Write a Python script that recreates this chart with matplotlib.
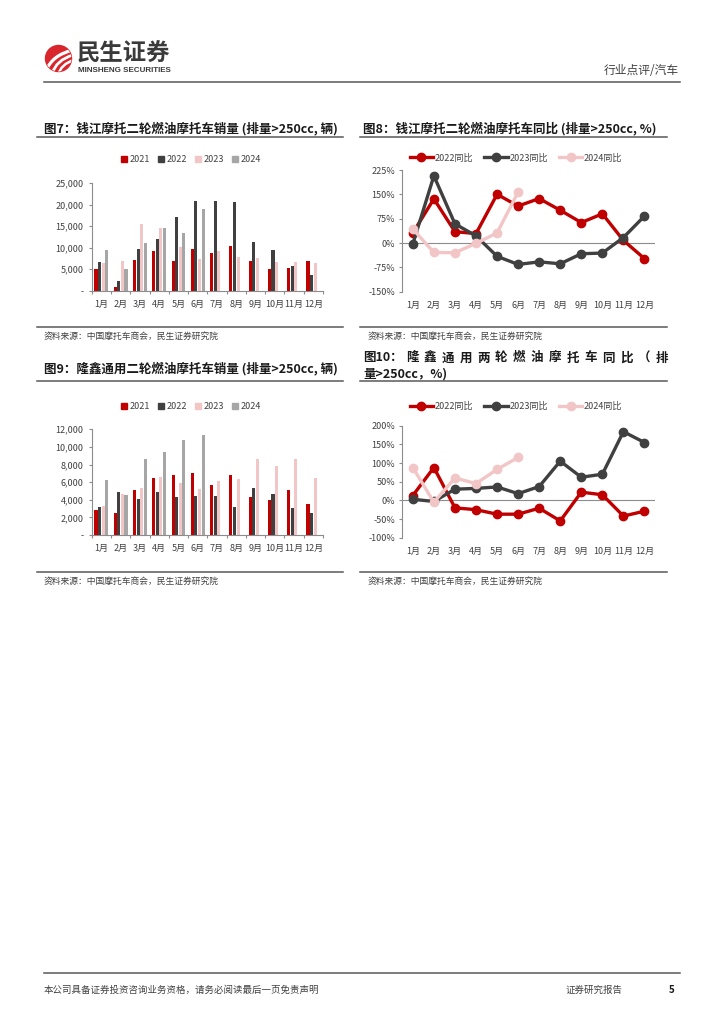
import matplotlib
matplotlib.use('Agg')
import matplotlib.pyplot as plt
import numpy as np
from matplotlib.patches import Circle, PathPatch, Patch
from matplotlib.path import Path
from matplotlib.lines import Line2D

plt.rcParams['font.family'] = ['Noto Sans CJK SC', 'DejaVu Sans']

# ---------------- data ----------------
months = ['1月', '2月', '3月', '4月', '5月', '6月', '7月', '8月', '9月', '10月', '11月', '12月']
bar_labels = ['2021', '2022', '2023', '2024']
line_labels = ['2022同比', '2023同比', '2024同比']

# 钱江摩托 销量 (辆)
qj_2021 = [5000, 900, 7200, 9300, 6800, 9700, 8800, 10300, 6900, 5000, 5300, 6800]
qj_2022 = [6700, 2250, 9800, 12100, 17100, 20900, 20900, 20700, 11400, 9400, 5700, 3600]
qj_2023 = [6500, 6900, 15500, 14600, 10200, 7400, 9300, 7900, 7700, 6700, 6700, 6450]
qj_2024 = [9500, 5000, 11200, 14600, 13350, 19000]

# 钱江摩托 同比 (%)
qj_yoy_2022 = [31, 136, 35, 29, 150, 114, 137, 101, 63, 90, 8, -48]
qj_yoy_2023 = [-3, 207, 59, 22, -41, -66, -58, -64, -33, -31, 17, 83]
qj_yoy_2024 = [43, -29, -30, -1, 31, 157]

# 隆鑫通用 销量 (辆)
lx_2021 = [2840, 2540, 5080, 6440, 6860, 7080, 5640, 6820, 4360, 4000, 5150, 3560]
lx_2022 = [3200, 4850, 4130, 4920, 4280, 4430, 4430, 3140, 5300, 4620, 3030, 2500]
lx_2023 = [3250, 4700, 5300, 6550, 5870, 5270, 6100, 6400, 8600, 7880, 8670, 6440]
lx_2024 = [6200, 4500, 8600, 9470, 10800, 11360]

# 隆鑫通用 同比 (%)
lx_yoy_2022 = [13, 88, -20, -25, -37, -37, -21, -55, 22, 15, -42, -29]
lx_yoy_2023 = [3, -3, 30, 32, 36, 18, 37, 105, 62, 70, 184, 155]
lx_yoy_2024 = [88, -5, 60, 45, 83, 115]

# ---------------- style ----------------
RED = '#C00000'
DARK = '#404040'
PINK = '#F2C6C6'
GREY = '#A6A6A6'
SPINE = '#8C8C8C'
TXT = '#404040'

W, H = 724, 1024
fig = plt.figure(figsize=(7.24, 10.24), dpi=100)


def rect(x0, y0, x1, y1):
    return [x0 / W, 1 - y1 / H, (x1 - x0) / W, (y1 - y0) / H]


# overlay for page furniture (pixel coordinates)
ov = fig.add_axes([0, 0, 1, 1])
ov.set_xlim(0, W)
ov.set_ylim(H, 0)
ov.axis('off')

# logo
circ = Circle((58.5, 58.5), 13, color='#D9262C', zorder=2)
ov.add_patch(circ)
for (p0, p1, p2, lw) in [((46, 71), (52, 55), (73, 50), 2.3),
                         ((52, 74), (56, 60), (73, 55), 2.0),
                         ((58, 75), (61, 64), (74, 60), 1.8)]:
    pth = Path([p0, p1, p2], [Path.MOVETO, Path.CURVE3, Path.CURVE3])
    pp = PathPatch(pth, facecolor='none', edgecolor='white', lw=lw, zorder=3,
                   capstyle='round')
    ov.add_patch(pp)
    pp.set_clip_path(circ)
ov.text(77, 53.5, '民生证券', fontsize=16.8, fontweight='bold', color='#3A3A3A',
        va='center', ha='left')
ov.text(78, 71, 'MINSHENG SECURITIES', fontsize=5.8, fontweight='bold', color='#3A3A3A',
        va='center', ha='left', family=['Liberation Sans Narrow', 'Liberation Sans', 'DejaVu Sans'])

ov.text(679, 70, '行业点评/汽车', fontsize=8.5, color=TXT, ha='right', va='center')
ov.plot([44, 680], [81.5, 81.5], color='#595959', lw=1.1)

# section lines and titles
LINE_C = '#595959'
for (x0, x1) in [(37, 343), (360, 667)]:
    ov.plot([x0, x1], [137, 137], color=LINE_C, lw=1.1)
    ov.plot([x0, x1], [327, 327], color=LINE_C, lw=1.1)
    ov.plot([x0, x1], [381, 381], color=LINE_C, lw=1.1)
    ov.plot([x0, x1], [572, 572], color=LINE_C, lw=1.1)

TITLE_KW = dict(fontsize=9, fontweight='bold', color='#1A1A1A', va='center', ha='left')
ov.text(44, 128, '图7：钱江摩托二轮燃油摩托车销量 (排量>250cc, 辆)', **TITLE_KW)
ov.text(363, 128, '图8：钱江摩托二轮燃油摩托车同比 (排量>250cc, %)', **TITLE_KW)
ov.text(44, 368, '图9：隆鑫通用二轮燃油摩托车销量 (排量>250cc, 辆)', **TITLE_KW)
ov.text(363, 358, '图10：', **TITLE_KW)
chars = list('隆鑫通用两轮燃油摩托车同比') + ['（', '排']
cx = np.linspace(412, 662, len(chars))
for c, x in zip(chars, cx):
    kw = dict(TITLE_KW)
    kw['ha'] = 'center'
    ov.text(x, 358, c, **kw)
ov.text(363, 374, '量>250cc，%)', **TITLE_KW)

SRC = '资料来源：中国摩托车商会，民生证券研究院'
for (x, y) in [(44, 336), (368, 336), (44, 581), (368, 581)]:
    ov.text(x, y, SRC, fontsize=6.3, color=TXT, ha='left', va='center')

# footer
ov.plot([44, 680], [973, 973], color='#595959', lw=1.1)
ov.text(44, 990, '本公司具备证券投资咨询业务资格，请务必阅读最后一页免责声明', fontsize=6.8,
        color=TXT, ha='left', va='center')
ov.text(594, 990, '证券研究报告', fontsize=6.8, color=TXT, ha='center', va='center')
ov.text(672, 990, '5', fontsize=7, fontweight='bold', color='#1A1A1A', ha='center', va='center')


# ---------------- charts ----------------
def style_axes(ax):
    for s in ['top', 'right']:
        ax.spines[s].set_visible(False)
    for s in ['left', 'bottom']:
        ax.spines[s].set_color(SPINE)
        ax.spines[s].set_linewidth(0.8)
    ax.set_facecolor('none')


def bar_chart(r, series, legend_xy, ymax, ystep):
    ax = fig.add_axes(rect(*r))
    x = np.arange(12)
    colors = [RED, DARK, PINK, GREY]
    offs = [-1.5, -0.5, 0.5, 1.5]
    sp, w = 0.185, 0.16
    for s, c, o, lab in zip(series, colors, offs, bar_labels):
        ax.bar(x[:len(s)] + o * sp, s, w, color=c, label=lab)
    ax.set_xlim(-0.5, 11.5)
    ax.set_ylim(0, ymax)
    ticks = np.arange(0, ymax + 1, ystep)
    ax.set_yticks(ticks)
    ax.set_yticklabels(['-' if t == 0 else f'{t:,}' for t in ticks])
    ax.set_xticks(x)
    ax.set_xticklabels(months)
    ax.set_xticks(np.arange(-0.5, 12, 1), minor=True)
    ax.tick_params(axis='x', which='major', length=0, pad=6.5, labelsize=6.5, labelcolor=TXT)
    ax.tick_params(axis='x', which='minor', length=2.5, color=SPINE, width=0.8)
    ax.tick_params(axis='y', length=2.5, color=SPINE, width=0.8, pad=3.5, labelsize=6.5,
                   labelcolor=TXT)
    style_axes(ax)
    handles = [Patch(color=c) for c in colors]
    fig.legend(handles, bar_labels, loc='center', bbox_to_anchor=(legend_xy[0] / W, 1 - legend_xy[1] / H),
               ncol=4, frameon=False, fontsize=6.5, handlelength=0.65, handleheight=0.65,
               handletextpad=0.3, columnspacing=0.9, labelcolor=TXT)
    return ax


def line_chart(r, series, legend_xy, ylo, yhi, ystep):
    ax = fig.add_axes(rect(*r))
    x = np.arange(12)
    colors = [RED, DARK, PINK]
    for s, c, lab in zip(series, colors, line_labels):
        ax.plot(x[:len(s)], s, color=c, lw=2.4, marker='o', ms=6, label=lab,
                solid_joinstyle='round')
    ax.set_xlim(-0.5, 11.5)
    ax.set_ylim(ylo, yhi)
    ticks = np.arange(ylo, yhi + 1, ystep)
    ax.set_yticks(ticks)
    ax.set_yticklabels([f'{t}%' for t in ticks])
    ax.axhline(0, color=SPINE, lw=0.8, zorder=0.5)
    ax.set_xticks(x)
    ax.set_xticklabels(months)
    ax.tick_params(axis='x', length=0, pad=6.5, labelsize=6.5, labelcolor=TXT)
    ax.tick_params(axis='y', length=2.5, color=SPINE, width=0.8, pad=2.5, labelsize=6.5,
                   labelcolor=TXT)
    style_axes(ax)
    ax.spines['bottom'].set_visible(False)
    handles = [Line2D([], [], color=c, lw=2.4, marker='o', ms=6) for c in colors]
    fig.legend(handles, line_labels, loc='center', bbox_to_anchor=(legend_xy[0] / W, 1 - legend_xy[1] / H),
               ncol=3, frameon=False, fontsize=6.5, handlelength=2.6,
               handletextpad=0.2, columnspacing=1.2, labelcolor=TXT)
    return ax


bar_chart((91.7, 183.3, 323, 290.7), [qj_2021, qj_2022, qj_2023, qj_2024], (191, 160), 25000, 5000)
line_chart((402.3, 170, 655, 291.7), [qj_yoy_2022, qj_yoy_2023, qj_yoy_2024], (516, 158), -150, 225, 75)
bar_chart((91.7, 429.3, 323, 535), [lx_2021, lx_2022, lx_2023, lx_2024], (191, 406.7), 12000, 2000)
line_chart((402.3, 425.7, 655, 537.7), [lx_yoy_2022, lx_yoy_2023, lx_yoy_2024], (516, 406.7), -100, 200, 50)

fig.savefig('out.png', dpi=100)
